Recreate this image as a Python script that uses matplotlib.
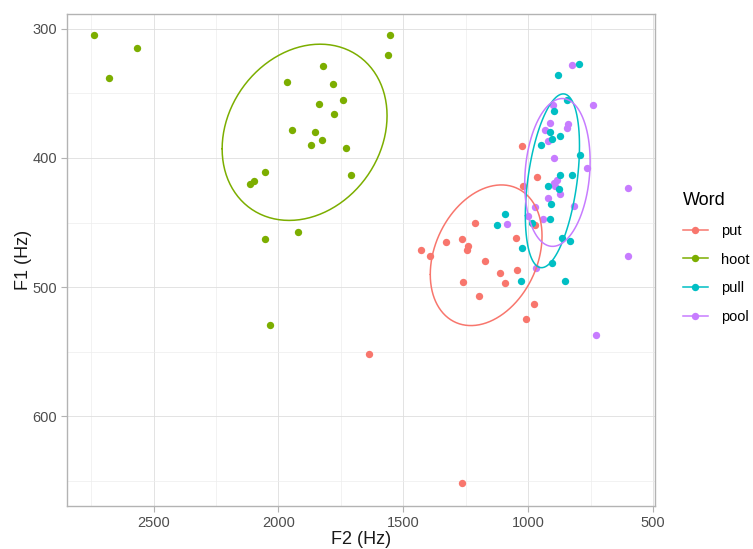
import numpy as np
import matplotlib
matplotlib.use("Agg")
import matplotlib.pyplot as plt
from matplotlib.lines import Line2D

plt.rcParams['font.family'] = ['Liberation Sans', 'DejaVu Sans']

put_f2 = [1024, 963, 1021, 1212, 1329, 1263, 1239, 1245, 1429, 1392, 1047,
          972, 1172, 1045, 1111, 1259, 1091, 1197, 975, 1007, 1263, 1637]
put_f1 = [391, 415, 422, 450, 465, 463, 468, 471, 471, 476, 462,
          452, 480, 487, 489, 496, 497, 507, 513, 525, 652, 552]

hoot_f2 = [2737, 2565, 2679, 1552, 1563, 1823, 1967, 1781, 1743, 1836, 1777, 1947,
           1855, 1827, 1871, 1731, 2052, 2099, 2115, 1711, 1923, 2053, 2032]
hoot_f1 = [305, 315, 338, 305, 320, 329, 341, 343, 355, 358, 366, 378,
           380, 386, 390, 392, 411, 418, 420, 413, 457, 463, 529]

pull_f2 = [796, 879, 845, 897, 912, 903, 871, 949, 792, 871, 823, 921,
           876, 909, 911, 983, 1093, 1123, 1025, 863, 832, 903, 852, 1029]
pull_f1 = [327, 336, 355, 364, 380, 385, 383, 390, 398, 413, 413, 422,
           424, 436, 447, 450, 443, 452, 470, 462, 464, 481, 495, 495]

pool_f2 = [823, 741, 901, 913, 839, 844, 931, 921, 897, 765, 599, 885,
           896, 892, 872, 921, 971, 817, 999, 939, 1084, 599, 967, 727]
pool_f1 = [328, 359, 359, 373, 374, 377, 378, 387, 400, 408, 423, 417,
           419, 422, 428, 431, 438, 437, 445, 447, 451, 476, 485, 537]

words = ['put', 'hoot', 'pull', 'pool']
colors = {'put': '#F8766D', 'hoot': '#7CAE00', 'pull': '#00BFC4', 'pool': '#C77CFF'}
data = {'put': (put_f2, put_f1), 'hoot': (hoot_f2, hoot_f1),
        'pull': (pull_f2, pull_f1), 'pool': (pool_f2, pool_f1)}


def cov_trob(x, nu=5, maxit=25, tol=0.01):
    # robust t covariance like MASS::cov.trob
    n, p = x.shape
    wt = np.ones(n)
    loc = x.mean(axis=0)
    w = np.sqrt(wt)
    for i in range(maxit):
        w0 = w
        X = x - loc
        u, d, vt = np.linalg.svd(np.sqrt(w / w.sum())[:, None] * X, full_matrices=False)
        wX = X @ vt.T @ np.diag(1 / d)
        Q = (wX ** 2).sum(axis=1)
        w = (wt * (nu + p)) / (nu + Q)
        loc = (w[:, None] * x).sum(axis=0) / w.sum()
        if np.all(np.abs(w - w0) < tol):
            break
    sw = np.sqrt(w)[:, None] * X
    return loc, sw.T @ sw / wt.sum()


def ellipse(xs, ys, level=0.68, segments=100):
    x = np.column_stack([xs, ys]).astype(float)
    center, shape = cov_trob(x)
    dfd = len(xs) - 1
    qf = dfd / 2 * ((1 - level) ** (-2 / dfd) - 1)
    radius = np.sqrt(2 * qf)
    R = np.linalg.cholesky(shape).T
    ang = np.arange(segments + 1) * 2 * np.pi / segments
    circ = np.column_stack([np.cos(ang), np.sin(ang)])
    e = center + radius * (circ @ R)
    return e[:, 0], e[:, 1]


fig = plt.figure(figsize=(7.53, 5.49), dpi=100)
ax = fig.add_axes([67 / 753, 1 - 506 / 549, 588 / 753, 492 / 549])

for w in ['put', 'hoot', 'pool', 'pull']:
    ax.scatter(data[w][0], data[w][1], s=28, color=colors[w], linewidths=0, zorder=3)
for w in words:
    ex, ey = ellipse(*data[w])
    ax.plot(ex, ey, color=colors[w], lw=1.1, zorder=4,
            solid_capstyle='round', solid_joinstyle='round')

ax.set_xlim(2847, 492)
ax.set_ylim(669.5, 288.5)
ax.set_xticks([2500, 2000, 1500, 1000, 500])
ax.set_xticks([2750, 2250, 1750, 1250, 750], minor=True)
ax.set_yticks([300, 400, 500, 600])
ax.set_yticks([350, 450, 550, 650], minor=True)
ax.grid(which='major', color='#DEDEDE', lw=0.6, zorder=0)
ax.grid(which='minor', color='#EDEDED', lw=0.5, zorder=0)
ax.set_axisbelow(True)
for s in ax.spines.values():
    s.set_color('#B3B3B3')
    s.set_linewidth(1.0)
ax.tick_params(which='major', color='#B3B3B3', length=4, width=0.8,
               labelsize=10.5, labelcolor='#4D4D4D', pad=3)
ax.tick_params(which='minor', length=0)

ax.set_xlabel('F2 (Hz)', fontsize=13, color='#1A1A1A', labelpad=1)
ax.set_ylabel('F1 (Hz)', fontsize=13, color='#1A1A1A', labelpad=0.5)

handles = [Line2D([0], [0], color=colors[w], lw=1.1, marker='o', markersize=5.3,
                  markeredgewidth=0) for w in words]
leg = ax.legend(handles, words, title='Word', loc='center left',
                bbox_to_anchor=(683 / 753, 0.53), bbox_transform=fig.transFigure,
                frameon=False, fontsize=10.5, title_fontsize=13, handlelength=1.7,
                handletextpad=0.9, labelspacing=1.02, borderpad=0, borderaxespad=0)
leg._legend_box.align = 'left'

fig.savefig('out.png', dpi=100)
